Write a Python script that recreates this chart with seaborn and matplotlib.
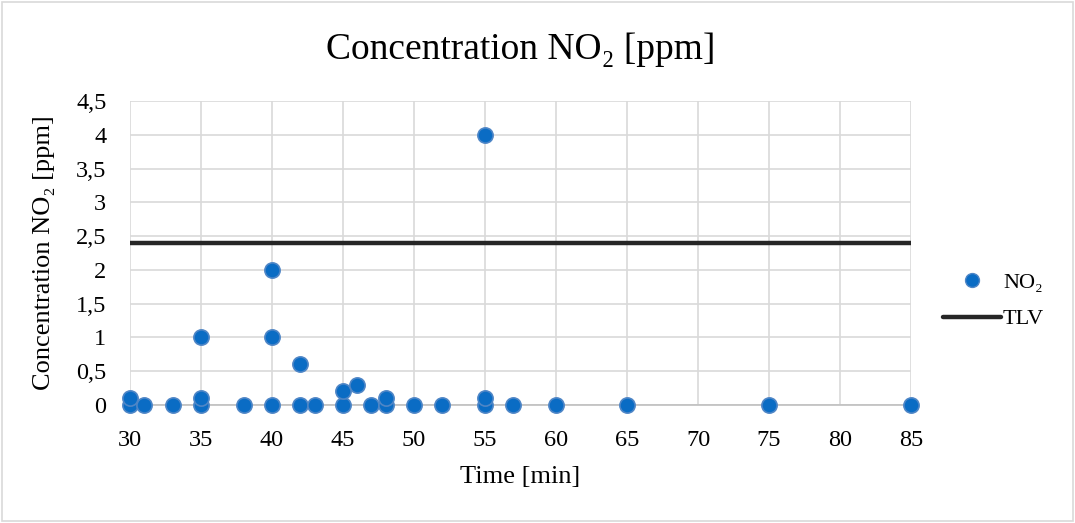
import matplotlib
matplotlib.use("Agg")
import matplotlib.pyplot as plt
import seaborn as sns
import pandas as pd
from matplotlib.patches import Rectangle
from matplotlib.lines import Line2D

time_min = [30, 30, 31, 33, 35, 35, 35, 38, 40, 40, 40, 42, 42, 43, 45, 45, 46, 47,
            48, 48, 50, 52, 55, 55, 55, 57, 60, 65, 75, 85]
no2_ppm = [0, 0.1, 0, 0, 0, 0.1, 1, 0, 0, 1, 2, 0, 0.6, 0, 0, 0.2, 0.3, 0,
           0, 0.1, 0, 0, 0, 0.1, 4, 0, 0, 0, 0, 0]
tlv_x = [30, 85]
tlv_y = [2.4, 2.4]
x_ticks = [30, 35, 40, 45, 50, 55, 60, 65, 70, 75, 80, 85]
y_ticks = [0, 0.5, 1, 1.5, 2, 2.5, 3, 3.5, 4, 4.5]
y_tick_labels = ["0", "0,5", "1", "1,5", "2", "2,5", "3", "3,5", "4", "4,5"]

sns.set_theme(style="white")
plt.rcParams['font.family'] = ['Liberation Serif', 'DejaVu Serif']
plt.rcParams['text.color'] = 'black'
plt.rcParams['axes.labelcolor'] = 'black'

fig = plt.figure(figsize=(10.75, 5.23), dpi=100)
ax = fig.add_axes([130/1075, 1 - 405/523, (911-130)/1075, (405-101)/523])

df = pd.DataFrame({"time": time_min, "no2": no2_ppm})
tlv = pd.DataFrame({"time": tlv_x, "tlv": tlv_y})

sns.lineplot(data=tlv, x="time", y="tlv", ax=ax, color="#262626", linewidth=3.2, zorder=2)
sns.scatterplot(data=df, x="time", y="no2", ax=ax, color="#0a6cc4", edgecolor="#4f86c6",
                linewidth=1.2, s=120, zorder=3, clip_on=False)

ax.set_xlim(30, 85)
ax.set_ylim(0, 4.5)
ax.set_xticks(x_ticks)
ax.set_xticklabels([str(t) for t in x_ticks])
ax.set_yticks(y_ticks)
ax.set_yticklabels(y_tick_labels)
ax.grid(True, color="#d9d9d9", linewidth=1.2)
ax.set_axisbelow(True)
for s in ["top", "right", "left"]:
    ax.spines[s].set_visible(False)
ax.spines["bottom"].set_color("#bfbfbf")
ax.spines["bottom"].set_linewidth(1.2)
ax.tick_params(axis="y", labelsize=17.5, colors="black", length=0, pad=17)
ax.tick_params(axis="x", labelsize=17.5, colors="black", length=0, pad=18)

ax.set_xlabel("Time [min]", fontsize=19, labelpad=11, color="black")
ax.set_ylabel("Concentration NO₂ [ppm]", fontsize=19, labelpad=15, color="black")
ax.set_title("Concentration NO₂ [ppm]", fontsize=27, pad=30, color="black")

handles = [
    Line2D([0], [0], marker="o", linestyle="none", markersize=10,
           markerfacecolor="#0a6cc4", markeredgecolor="#4f86c6"),
    Line2D([0], [0], color="#262626", linewidth=3.2),
]
fig.legend(handles, ["NO₂", "TLV"], loc="center left", bbox_to_anchor=(923/1075, 1 - 301/523),
           frameon=False, fontsize=16, handlelength=2.6, labelspacing=0.7, handletextpad=0.1)

fig.patches.append(Rectangle((0.002, 0.003), 0.996, 0.994, transform=fig.transFigure,
                             fill=False, edgecolor="#d9d9d9", linewidth=1.2))

fig.savefig("out.png", dpi=100)
